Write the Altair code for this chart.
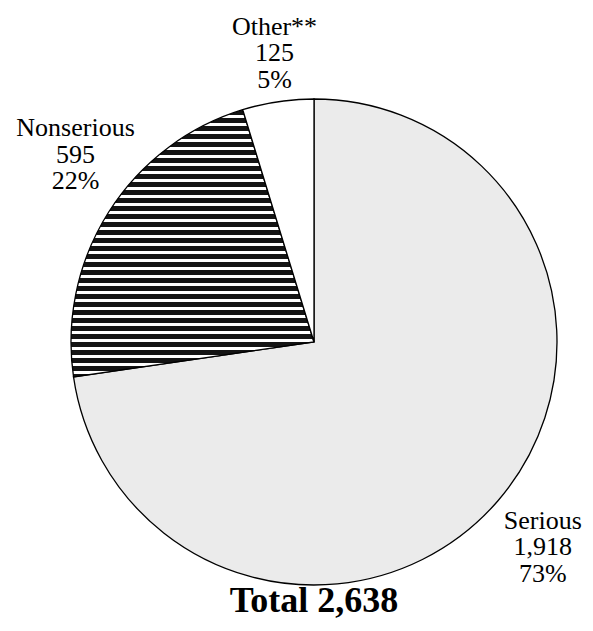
import altair as alt
import pandas as pd

# ---- data ----
categories = ["Serious", "Nonserious", "Other**"]
counts = [1918, 595, 125]
percents = [73, 22, 5]
slice_order = [1, 2, 3]

total = sum(counts)
labels = [f"{c}\n{n:,}\n{p}%" for c, n, p in zip(categories, counts, percents)]
df = pd.DataFrame({"category": categories, "count": counts,
                   "label": labels, "order": slice_order})

FONT = "Liberation Serif"
R = 243
W, H = 540, 560

# horizontal black/white stripes for the "Nonserious" wedge (a style)
bbox_h = 267.0
period = 8.0
black = 5.0
stops = []
i = 0
while i * period <= bbox_h:
    s = i * period / bbox_h
    e = min((i * period + black) / bbox_h, 1.0)
    f = min((i + 1) * period / bbox_h, 1.0)
    stops += [{"offset": s, "color": "#141414"}, {"offset": e, "color": "#141414"},
              {"offset": e, "color": "#ffffff"}, {"offset": f, "color": "#ffffff"}]
    i += 1
stripes = {"gradient": "linear", "x1": 0, "y1": 0, "x2": 0, "y2": 1, "stops": stops}

fill = (alt.when(alt.datum.category == "Nonserious").then(alt.value(stripes))
        .when(alt.datum.category == "Other**").then(alt.value("#ffffff"))
        .otherwise(alt.value("#ebebeb")))

pie = alt.Chart(df).mark_arc(outerRadius=R, stroke="black", strokeWidth=1.3).encode(
    theta=alt.Theta("count:Q", stack=True),
    order=alt.Order("order:Q"),
    detail="category:N",
    fill=fill,
)

base_txt = (alt.Chart(df)
            .transform_window(cum="sum(count)", sort=[alt.SortField("order")], frame=[None, 0])
            .transform_calculate(mid="datum.cum - datum.count / 2"))


def label_layer(cat, dx, dy):
    return base_txt.transform_filter(alt.datum.category == cat).mark_text(
        radius=300, dx=dx, dy=dy, font=FONT, fontSize=26, lineBreak="\n",
        lineHeight=26.5, baseline="middle", align="center", color="black",
    ).encode(theta=alt.Theta("mid:Q", stack=None), text="label:N")


lab_serious = label_layer("Serious", 2, -17.5)
lab_non = label_layer("Nonserious", 15, -53.5)
lab_other = label_layer("Other**", 5, -18.5)

total_txt = (alt.Chart(df)
             .transform_aggregate(total="sum(count)")
             .transform_calculate(t="'Total ' + format(datum.total, ',')")
             .mark_text(font=FONT, fontSize=36, fontWeight="bold",
                        baseline="alphabetic", align="center", color="black")
             .encode(x=alt.value(W / 2), y=alt.value(550), text="t:N"))

chart = (alt.layer(pie, lab_serious, lab_non, lab_other, total_txt)
         .properties(width=W, height=H,
                     autosize=alt.AutoSizeParams(type="none"),
                     padding={"left": 36, "top": 54, "right": 1, "bottom": 1},
                     background="white")
         .configure_view(stroke=None))

chart.save("out.html", embed_options={"renderer": "svg", "actions": False})
